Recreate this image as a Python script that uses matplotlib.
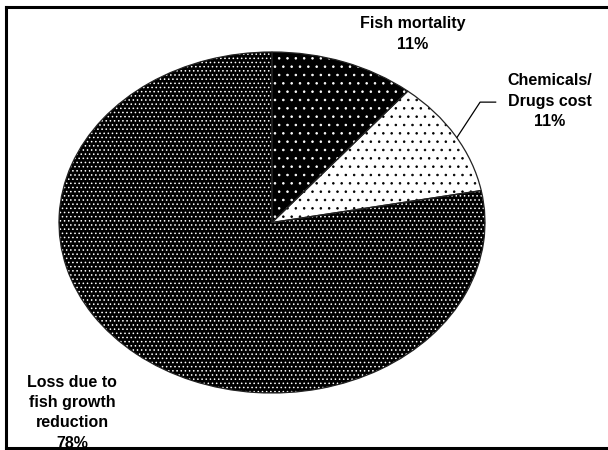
import matplotlib.pyplot as plt
from matplotlib.lines import Line2D

# data
labels = ["Fish mortality", "Chemicals/\nDrugs cost", "Loss due to\nfish growth\nreduction"]
values = [11, 11, 78]
hatches = ["..", "..", "...."]
face_cols = ["black", "white", "black"]
dot_cols = ["white", "black", "white"]

plt.rcParams["font.family"] = ["Liberation Sans", "DejaVu Sans"]
plt.rcParams["hatch.linewidth"] = 0.6

fig = plt.figure(figsize=(6.08, 4.5), dpi=100)
ax = fig.add_axes([59 / 608, 1 - 393 / 450, 426 / 608, 341 / 450])

# pie, dots drawn in edge colour, then outlines on top
wedges, _ = ax.pie(values, startangle=90, counterclock=False, radius=1,
                   colors=face_cols, wedgeprops=dict(linewidth=0))
for w, h, c in zip(wedges, hatches, dot_cols):
    w.set_hatch(h)
    w.set_edgecolor(c)
outl, _ = ax.pie(values, startangle=90, counterclock=False, radius=1,
                 wedgeprops=dict(fill=False, edgecolor="#222222", linewidth=0.9))
ax.set_aspect("auto")
ax.set_xlim(-1, 1)
ax.set_ylim(-1, 1)

lab_pos = [(0.662, 1.106), (1.305, 0.712), (-0.939, -1.115)]
for lab, v, (x, y) in zip(labels, values, lab_pos):
    ax.text(x, y, f"{lab}\n{v}%", ha="center", va="center", fontsize=11.5,
            fontweight="bold", linespacing=1.45, clip_on=False, zorder=5)

# leader line for the chemicals label
ax.plot([1.05, 0.977, 0.869], [0.706, 0.706, 0.50], color="black",
        linewidth=0.9, clip_on=False)

# frame (no right edge)
for xs, ys in [([6 / 608, 1], [1 - 7 / 450, 1 - 7 / 450]),
               ([6 / 608, 1], [1 - 448 / 450, 1 - 448 / 450]),
               ([6 / 608, 6 / 608], [1 - 7 / 450, 1 - 448 / 450])]:
    fig.add_artist(Line2D(xs, ys, color="black", linewidth=2.2, zorder=10))

fig.savefig("out.png", dpi=100)
